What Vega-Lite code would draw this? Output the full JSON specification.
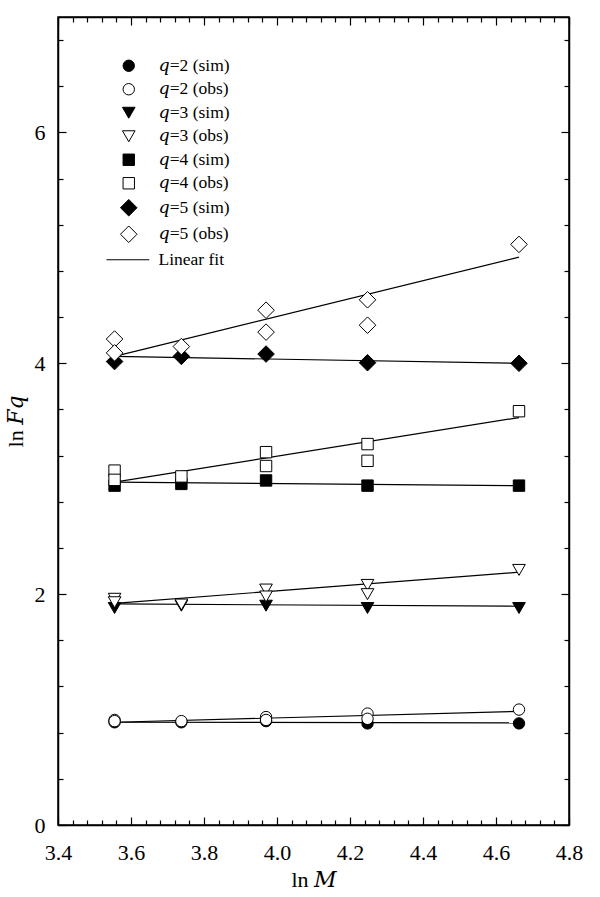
{
  "$schema": "https://vega.github.io/schema/vega-lite/v6.json",
  "width": 511,
  "height": 808,
  "autosize": {"type": "none"},
  "padding": {"left": 58, "top": 17, "right": 31, "bottom": 72},
  "background": "white",
  "config": {"view": {"stroke": "black", "strokeWidth": 1.5}, "font": "Liberation Serif"},
  "datasets": {
    "points": [
      {"lnM": 3.555, "lnF": 0.89, "series": "𝑞=2 (sim)"},
      {"lnM": 3.738, "lnF": 0.89, "series": "𝑞=2 (sim)"},
      {"lnM": 3.970, "lnF": 0.90, "series": "𝑞=2 (sim)"},
      {"lnM": 4.248, "lnF": 0.88, "series": "𝑞=2 (sim)"},
      {"lnM": 4.663, "lnF": 0.88, "series": "𝑞=2 (sim)"},
      {"lnM": 3.555, "lnF": 1.88, "series": "𝑞=3 (sim)"},
      {"lnM": 3.738, "lnF": 1.90, "series": "𝑞=3 (sim)"},
      {"lnM": 3.970, "lnF": 1.90, "series": "𝑞=3 (sim)"},
      {"lnM": 4.248, "lnF": 1.88, "series": "𝑞=3 (sim)"},
      {"lnM": 4.663, "lnF": 1.88, "series": "𝑞=3 (sim)"},
      {"lnM": 3.555, "lnF": 2.94, "series": "𝑞=4 (sim)"},
      {"lnM": 3.738, "lnF": 2.955, "series": "𝑞=4 (sim)"},
      {"lnM": 3.970, "lnF": 2.985, "series": "𝑞=4 (sim)"},
      {"lnM": 4.248, "lnF": 2.94, "series": "𝑞=4 (sim)"},
      {"lnM": 4.663, "lnF": 2.94, "series": "𝑞=4 (sim)"},
      {"lnM": 3.555, "lnF": 4.015, "series": "𝑞=5 (sim)"},
      {"lnM": 3.738, "lnF": 4.06, "series": "𝑞=5 (sim)"},
      {"lnM": 3.970, "lnF": 4.08, "series": "𝑞=5 (sim)"},
      {"lnM": 4.248, "lnF": 4.005, "series": "𝑞=5 (sim)"},
      {"lnM": 4.663, "lnF": 4.00, "series": "𝑞=5 (sim)"},
      {"lnM": 3.555, "lnF": 0.91, "series": "𝑞=2 (obs)"},
      {"lnM": 3.555, "lnF": 0.90, "series": "𝑞=2 (obs)"},
      {"lnM": 3.738, "lnF": 0.90, "series": "𝑞=2 (obs)"},
      {"lnM": 3.970, "lnF": 0.935, "series": "𝑞=2 (obs)"},
      {"lnM": 3.970, "lnF": 0.91, "series": "𝑞=2 (obs)"},
      {"lnM": 4.248, "lnF": 0.965, "series": "𝑞=2 (obs)"},
      {"lnM": 4.248, "lnF": 0.92, "series": "𝑞=2 (obs)"},
      {"lnM": 4.663, "lnF": 1.00, "series": "𝑞=2 (obs)"},
      {"lnM": 3.555, "lnF": 1.96, "series": "𝑞=3 (obs)"},
      {"lnM": 3.555, "lnF": 1.93, "series": "𝑞=3 (obs)"},
      {"lnM": 3.738, "lnF": 1.91, "series": "𝑞=3 (obs)"},
      {"lnM": 3.970, "lnF": 2.04, "series": "𝑞=3 (obs)"},
      {"lnM": 3.970, "lnF": 1.98, "series": "𝑞=3 (obs)"},
      {"lnM": 4.248, "lnF": 2.08, "series": "𝑞=3 (obs)"},
      {"lnM": 4.248, "lnF": 2.00, "series": "𝑞=3 (obs)"},
      {"lnM": 4.663, "lnF": 2.21, "series": "𝑞=3 (obs)"},
      {"lnM": 3.555, "lnF": 3.07, "series": "𝑞=4 (obs)"},
      {"lnM": 3.555, "lnF": 2.99, "series": "𝑞=4 (obs)"},
      {"lnM": 3.738, "lnF": 3.02, "series": "𝑞=4 (obs)"},
      {"lnM": 3.970, "lnF": 3.23, "series": "𝑞=4 (obs)"},
      {"lnM": 3.970, "lnF": 3.11, "series": "𝑞=4 (obs)"},
      {"lnM": 4.248, "lnF": 3.30, "series": "𝑞=4 (obs)"},
      {"lnM": 4.248, "lnF": 3.155, "series": "𝑞=4 (obs)"},
      {"lnM": 4.663, "lnF": 3.585, "series": "𝑞=4 (obs)"},
      {"lnM": 3.555, "lnF": 4.21, "series": "𝑞=5 (obs)"},
      {"lnM": 3.555, "lnF": 4.09, "series": "𝑞=5 (obs)"},
      {"lnM": 3.738, "lnF": 4.145, "series": "𝑞=5 (obs)"},
      {"lnM": 3.970, "lnF": 4.46, "series": "𝑞=5 (obs)"},
      {"lnM": 3.970, "lnF": 4.27, "series": "𝑞=5 (obs)"},
      {"lnM": 4.248, "lnF": 4.55, "series": "𝑞=5 (obs)"},
      {"lnM": 4.248, "lnF": 4.33, "series": "𝑞=5 (obs)"},
      {"lnM": 4.663, "lnF": 5.03, "series": "𝑞=5 (obs)"}
    ],
    "fits": [
      {"lnM": 3.555, "lnF": 0.89, "fit": "q2sim"},
      {"lnM": 4.663, "lnF": 0.885, "fit": "q2sim"},
      {"lnM": 3.555, "lnF": 0.89, "fit": "q2obs"},
      {"lnM": 4.663, "lnF": 0.985, "fit": "q2obs"},
      {"lnM": 3.555, "lnF": 1.915, "fit": "q3sim"},
      {"lnM": 4.663, "lnF": 1.895, "fit": "q3sim"},
      {"lnM": 3.555, "lnF": 1.92, "fit": "q3obs"},
      {"lnM": 4.663, "lnF": 2.19, "fit": "q3obs"},
      {"lnM": 3.555, "lnF": 2.97, "fit": "q4sim"},
      {"lnM": 4.663, "lnF": 2.94, "fit": "q4sim"},
      {"lnM": 3.555, "lnF": 2.97, "fit": "q4obs"},
      {"lnM": 4.663, "lnF": 3.53, "fit": "q4obs"},
      {"lnM": 3.555, "lnF": 4.06, "fit": "q5sim"},
      {"lnM": 4.663, "lnF": 4.00, "fit": "q5sim"},
      {"lnM": 3.555, "lnF": 4.06, "fit": "q5obs"},
      {"lnM": 4.663, "lnF": 4.92, "fit": "q5obs"}
    ]
  },
  "layer": [
    {
      "data": {"name": "fits"},
      "mark": {"type": "line", "color": "black", "strokeWidth": 1.2},
      "encoding": {
        "x": {
          "field": "lnM", "type": "quantitative",
          "scale": {"domain": [3.4, 4.8], "nice": false, "zero": false},
          "axis": {
            "orient": "bottom",
            "values": [3.4, 3.44, 3.48, 3.52, 3.56, 3.6, 3.64, 3.68, 3.72, 3.76, 3.8, 3.84, 3.88, 3.92, 3.96, 4.0, 4.04, 4.08, 4.12, 4.16, 4.2, 4.24, 4.28, 4.32, 4.36, 4.4, 4.44, 4.48, 4.52, 4.56, 4.6, 4.64, 4.68, 4.72, 4.76, 4.8],
            "labelExpr": "abs(datum.value*5 - round(datum.value*5)) < 0.001 ? format(datum.value, '.1f') : ''",
            "tickSize": {"condition": {"test": "abs(datum.value*5 - round(datum.value*5)) < 0.001", "value": -8}, "value": -5},
            "tickColor": "black", "tickWidth": 1.2,
            "domainColor": "black", "domainWidth": 1.5,
            "labelFont": "Liberation Serif", "labelFontSize": 22, "labelColor": "black",
            "labelPadding": 25, "labelOverlap": false, "labelFlush": false, "labelBound": false,
            "grid": false,
            "title": "ln 𝑀",
            "titleFont": "Liberation Serif, DejaVu Serif", "titleFontSize": 22, "titleFontWeight": "normal", "titleColor": "black",
            "titlePadding": 3
          }
        },
        "y": {
          "field": "lnF", "type": "quantitative",
          "scale": {"domain": [0, 7], "nice": false, "zero": false},
          "axis": {
            "orient": "left",
            "values": [0, 0.4, 0.8, 1.2, 1.6, 2, 2.4, 2.8, 3.2, 3.6, 4, 4.4, 4.8, 5.2, 5.6, 6, 6.4, 6.8],
            "labelExpr": "abs(datum.value/2 - round(datum.value/2)) < 0.001 ? format(datum.value, 'd') : ''",
            "tickSize": {"condition": {"test": "abs(datum.value/2 - round(datum.value/2)) < 0.001", "value": -8}, "value": -5},
            "tickColor": "black", "tickWidth": 1.2,
            "domainColor": "black", "domainWidth": 1.5,
            "labelFont": "Liberation Serif", "labelFontSize": 22, "labelColor": "black",
            "labelPadding": 21, "labelOverlap": false, "labelFlush": false, "labelBound": false,
            "grid": false,
            "title": "ln 𝐹𝑞",
            "titleFont": "Liberation Serif, DejaVu Serif", "titleFontSize": 22, "titleFontWeight": "normal", "titleColor": "black",
            "titlePadding": 7
          }
        },
        "detail": {"field": "fit", "type": "nominal"}
      }
    },
    {
      "data": {"name": "points"},
      "mark": {"type": "point", "filled": true, "stroke": "black", "strokeWidth": 1, "opacity": 1},
      "encoding": {
        "x": {
          "field": "lnM", "type": "quantitative",
          "scale": {"domain": [3.4, 4.8], "nice": false, "zero": false},
          "axis": {
            "orient": "top",
            "values": [3.4, 3.44, 3.48, 3.52, 3.56, 3.6, 3.64, 3.68, 3.72, 3.76, 3.8, 3.84, 3.88, 3.92, 3.96, 4.0, 4.04, 4.08, 4.12, 4.16, 4.2, 4.24, 4.28, 4.32, 4.36, 4.4, 4.44, 4.48, 4.52, 4.56, 4.6, 4.64, 4.68, 4.72, 4.76, 4.8],
            "labels": false,
            "tickSize": {"condition": {"test": "abs(datum.value*5 - round(datum.value*5)) < 0.001", "value": -8}, "value": -5},
            "tickColor": "black", "tickWidth": 1.2,
            "domainColor": "black", "domainWidth": 1.5,
            "grid": false, "title": null
          }
        },
        "y": {
          "field": "lnF", "type": "quantitative",
          "scale": {"domain": [0, 7], "nice": false, "zero": false},
          "axis": {
            "orient": "right",
            "values": [0, 0.4, 0.8, 1.2, 1.6, 2, 2.4, 2.8, 3.2, 3.6, 4, 4.4, 4.8, 5.2, 5.6, 6, 6.4, 6.8],
            "labels": false,
            "tickSize": {"condition": {"test": "abs(datum.value/2 - round(datum.value/2)) < 0.001", "value": -8}, "value": -5},
            "tickColor": "black", "tickWidth": 1.2,
            "domainColor": "black", "domainWidth": 1.5,
            "grid": false, "title": null
          }
        },
        "shape": {
          "field": "series", "type": "nominal",
          "scale": {
            "domain": ["𝑞=2 (sim)", "𝑞=2 (obs)", "𝑞=3 (sim)", "𝑞=3 (obs)", "𝑞=4 (sim)", "𝑞=4 (obs)", "𝑞=5 (sim)", "𝑞=5 (obs)", "Linear fit"],
            "range": ["circle", "circle", "triangle-down", "triangle-down", "square", "square", "M-1.4,0L0,-1.4L1.4,0L0,1.4Z", "M-1.4,0L0,-1.4L1.4,0L0,1.4Z", "M-3.9,0H3.6"]
          },
          "legend": {
            "title": null, "orient": "none", "legendX": 62, "legendY": 40,
            "padding": 0, "labelFont": "Liberation Serif, DejaVu Serif", "labelFontSize": 17.5, "labelColor": "black",
            "labelOffset": 21, "rowPadding": 4.5, "symbolStrokeColor": "black", "symbolStrokeWidth": 1,
            "symbolOpacity": 1,
            "encode": {"symbols": {"update": {"stroke": {"value": "black"}, "strokeWidth": {"value": 1}, "opacity": {"value": 1}}}}
          }
        },
        "fill": {
          "field": "series", "type": "nominal",
          "scale": {
            "domain": ["𝑞=2 (sim)", "𝑞=2 (obs)", "𝑞=3 (sim)", "𝑞=3 (obs)", "𝑞=4 (sim)", "𝑞=4 (obs)", "𝑞=5 (sim)", "𝑞=5 (obs)", "Linear fit"],
            "range": ["black", "white", "black", "white", "black", "white", "black", "white", "transparent"]
          },
          "legend": {
            "title": null, "orient": "none", "legendX": 62, "legendY": 40,
            "padding": 0, "labelFont": "Liberation Serif, DejaVu Serif", "labelFontSize": 17.5, "labelColor": "black",
            "labelOffset": 21, "rowPadding": 4.5, "symbolStrokeColor": "black", "symbolStrokeWidth": 1,
            "symbolOpacity": 1,
            "encode": {"symbols": {"update": {"stroke": {"value": "black"}, "strokeWidth": {"value": 1}, "opacity": {"value": 1}}}}
          }
        },
        "size": {
          "field": "series", "type": "nominal",
          "scale": {
            "type": "ordinal",
            "domain": ["𝑞=2 (sim)", "𝑞=2 (obs)", "𝑞=3 (sim)", "𝑞=3 (obs)", "𝑞=4 (sim)", "𝑞=4 (obs)", "𝑞=5 (sim)", "𝑞=5 (obs)", "Linear fit"],
            "range": [130, 130, 160, 160, 130, 130, 140, 140, 130]
          },
          "legend": {
            "title": null, "orient": "none", "legendX": 62, "legendY": 40,
            "padding": 0, "labelFont": "Liberation Serif, DejaVu Serif", "labelFontSize": 17.5, "labelColor": "black",
            "labelOffset": 21, "rowPadding": 4.5, "symbolStrokeColor": "black", "symbolStrokeWidth": 1,
            "symbolOpacity": 1,
            "encode": {"symbols": {"update": {"stroke": {"value": "black"}, "strokeWidth": {"value": 1}, "opacity": {"value": 1}}}}
          }
        }
      }
    }
  ],
  "resolve": {"axis": {"x": "independent", "y": "independent"}}
}
